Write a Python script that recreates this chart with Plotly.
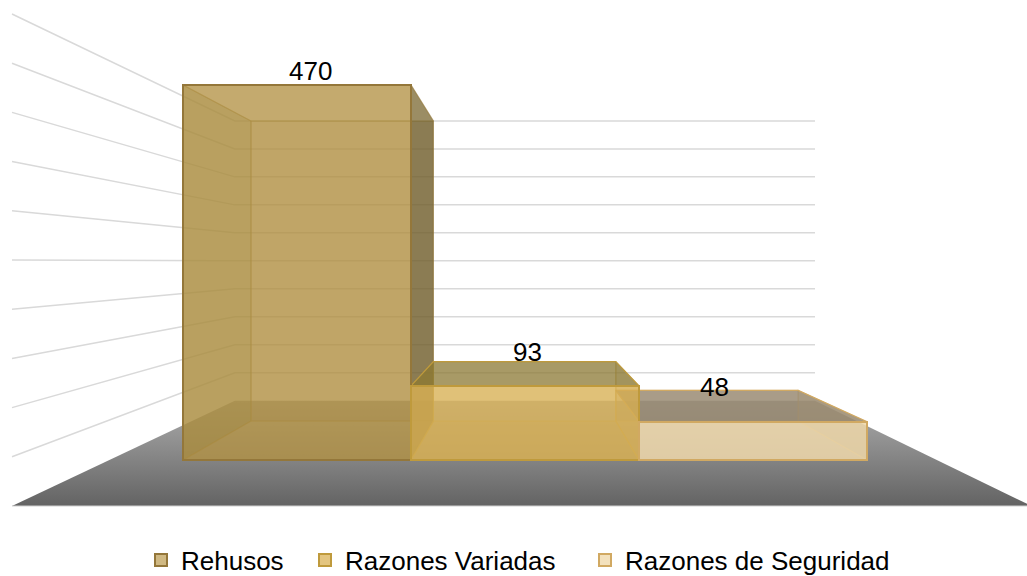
import plotly.graph_objects as go

categories = ["Rehusos", "Razones Variadas", "Razones de Seguridad"]
values = [470, 93, 48]
grid_values = [50, 100, 150, 200, 250, 300, 350, 400, 450, 500]

front_fill = ["rgba(183,147,64,0.65)", "rgba(218,178,85,0.75)", "rgba(240,218,172,0.80)"]
edge = ["#94773a", "#bf9a3c", "#d1a962"]
back_fill = ["rgba(140,115,55,0.40)", "rgba(200,170,100,0.20)", "rgba(130,115,90,0.10)"]
left_fill = ["rgba(123,113,55,0.50)", "rgba(190,150,60,0.30)", "rgba(220,190,130,0.15)"]
right_fill = ["rgba(110,92,44,0.70)", "rgba(170,130,50,0.30)", "rgba(200,170,110,0.30)"]
top_fill = ["rgba(160,140,90,0.37)", "rgba(135,118,50,0.70)", "rgba(150,135,110,0.80)"]
bottom_fill = ["rgba(170,140,60,0.30)", "rgba(200,160,70,0.40)", "rgba(230,205,150,0.25)"]

W, H = 1027, 576
X0, CAT = 297.0, 228.0
Y0, UNIT = 460.0, 375.0 / 470.0

def dx(px):
    return (px - X0) / CAT

def dy(py):
    return (Y0 - py) / UNIT

x_range = [dx(0), dx(W)]
y_range = [dy(H), dy(0)]

# perspective of the bars
BAR_DEPTH = 0.8
BAR_VP = (dx(523), dy(265))

def to_back(x, y):
    return (BAR_VP[0] + BAR_DEPTH * (x - BAR_VP[0]),
            BAR_VP[1] + BAR_DEPTH * (y - BAR_VP[1]))

# perspective of the walls and floor
WALL_DEPTH = 0.569
WALL_VP = (dx(529), dy(262))
WALL_LEFT = dx(12)
WALL_RIGHT_BACK = dx(815)
FLOOR_Y = dy(506)
WALL_UNIT = 1.2333

def wall_front(v):
    return (WALL_LEFT, FLOOR_Y + v * WALL_UNIT)

def wall_back(v):
    x, y = wall_front(v)
    return (WALL_VP[0] + WALL_DEPTH * (x - WALL_VP[0]),
            WALL_VP[1] + WALL_DEPTH * (y - WALL_VP[1]))

fig = go.Figure()

for v in grid_values:
    a = wall_front(v)
    b = wall_back(v)
    fig.add_trace(go.Scatter(x=[a[0], b[0], WALL_RIGHT_BACK], y=[a[1], b[1], b[1]],
                             mode="lines", line=dict(color="#d9d9d9", width=1.5),
                             showlegend=False, hoverinfo="skip"))

# floor
fb = wall_back(0)
fr_front = WALL_VP[0] + (WALL_RIGHT_BACK - WALL_VP[0]) / WALL_DEPTH
fig.add_trace(go.Scatter(
    x=[WALL_LEFT, fr_front, WALL_RIGHT_BACK, fb[0], WALL_LEFT],
    y=[FLOOR_Y, FLOOR_Y, fb[1], fb[1], FLOOR_Y],
    mode="lines", line=dict(width=0), fill="toself",
    fillgradient=dict(type="vertical", start=FLOOR_Y, stop=fb[1],
                      colorscale=[[0, "#636363"], [1, "#adadad"]]),
    showlegend=False, hoverinfo="skip"))
fig.add_trace(go.Scatter(x=[WALL_LEFT, fr_front], y=[FLOOR_Y, FLOOR_Y], mode="lines",
                         line=dict(color="#d0d0d0", width=1),
                         showlegend=False, hoverinfo="skip"))

def face(points, fill, color, width=1.2):
    xs = [p[0] for p in points] + [points[0][0]]
    ys = [p[1] for p in points] + [points[0][1]]
    fig.add_trace(go.Scatter(x=xs, y=ys, mode="lines", fill="toself", fillcolor=fill,
                             line=dict(color=color, width=width),
                             showlegend=False, hoverinfo="skip"))

for i in [0, 2, 1]:
    v = values[i]
    l, r = i - 0.5, i + 0.5
    fl0, fr0, flv, frv = (l, 0), (r, 0), (l, v), (r, v)
    bl0, br0, blv, brv = to_back(l, 0), to_back(r, 0), to_back(l, v), to_back(r, v)
    c = edge[i].replace("#", "")
    rgb = tuple(int(c[k:k + 2], 16) for k in (0, 2, 4))
    soft = f"rgba({rgb[0]},{rgb[1]},{rgb[2]},0.40)"
    face([bl0, br0, brv, blv], back_fill[i], soft)
    face([fl0, bl0, br0, fr0], bottom_fill[i], soft)
    face([fl0, bl0, blv, flv], left_fill[i], soft)
    face([fr0, br0, brv, frv], right_fill[i], soft)
    face([flv, blv, brv, frv], top_fill[i], edge[i] if i else soft)

legend_names = ["legend", "legend2", "legend3"]
for i, name in enumerate(categories):
    fig.add_trace(go.Bar(x=[i], y=[values[i]], name=name, width=1, legend=legend_names[i],
                         marker=dict(color=front_fill[i], line=dict(color=edge[i], width=2)),
                         xaxis="x2", yaxis="y2", hoverinfo="skip"))

label_shift = [(13, 14), (2, 34), (-39, 35)]
annotations = []
for i, v in enumerate(values):
    annotations.append(dict(x=i, y=v, xref="x", yref="y", text=str(v), showarrow=False,
                            xshift=label_shift[i][0], yshift=label_shift[i][1],
                            font=dict(family="Liberation Sans", size=26, color="#000000")))

legend_style = dict(xanchor="left", y=1 - 560 / H, yanchor="middle",
                    font=dict(family="Liberation Sans", size=26, color="#000000"),
                    bgcolor="rgba(0,0,0,0)")
legend_x = [141, 305, 585]

axis = dict(visible=False, fixedrange=True)
fig.update_layout(
    width=W, height=H, margin=dict(l=0, r=0, t=0, b=0, pad=0, autoexpand=False),
    paper_bgcolor="white", plot_bgcolor="white", barmode="overlay", bargap=0,
    xaxis=dict(range=x_range, **axis), yaxis=dict(range=y_range, **axis),
    xaxis2=dict(range=x_range, overlaying="x", **axis),
    yaxis2=dict(range=y_range, overlaying="y", **axis),
    annotations=annotations,
    legend=dict(x=legend_x[0] / W, **legend_style),
    legend2=dict(x=legend_x[1] / W, **legend_style),
    legend3=dict(x=legend_x[2] / W, **legend_style),
)

fig.write_html("out.html", config=dict(displayModeBar=False),
               post_script="document.body.style.margin='0';window.dispatchEvent(new Event('resize'));")
